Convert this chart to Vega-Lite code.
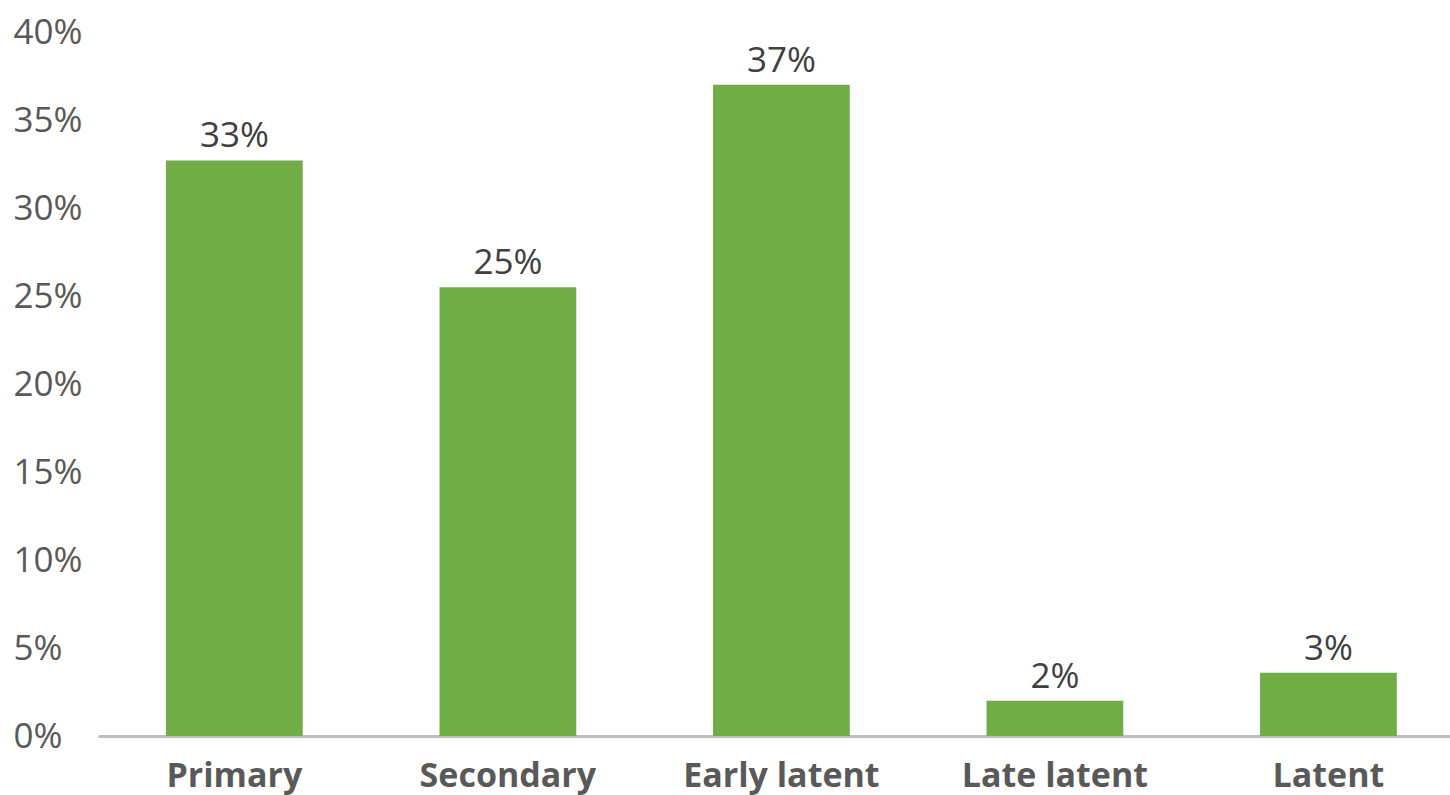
{
  "$schema": "https://vega.github.io/schema/vega-lite/v6.json",
  "autosize": {"type": "none"},
  "padding": {"left": 98, "top": 32, "right": 0, "bottom": 59},
  "width": 1352,
  "height": 704,
  "background": "white",
  "config": {"view": {"stroke": null}, "font": "Open Sans"},
  "data": {
    "values": [
      {"stage": "Primary", "share": 0.327, "label": "33%"},
      {"stage": "Secondary", "share": 0.255, "label": "25%"},
      {"stage": "Early latent", "share": 0.370, "label": "37%"},
      {"stage": "Late latent", "share": 0.020, "label": "2%"},
      {"stage": "Latent", "share": 0.036, "label": "3%"}
    ]
  },
  "encoding": {
    "x": {
      "field": "stage",
      "type": "nominal",
      "sort": null,
      "scale": {"paddingInner": 0.5, "paddingOuter": 0.2216, "align": 0.561},
      "axis": {
        "title": null,
        "labelAngle": 0,
        "labelLimit": 0,
        "labelFont": "Open Sans",
        "labelFontSize": 34,
        "labelFontWeight": "bold",
        "labelColor": "#595959",
        "labelBaseline": "alphabetic",
        "labelPadding": 50,
        "ticks": false,
        "tickSize": 0,
        "domainColor": "#BFBFBF",
        "domainWidth": 3,
        "grid": false
      }
    },
    "y": {
      "field": "share",
      "type": "quantitative",
      "scale": {"domain": [0, 0.4], "nice": false},
      "axis": {
        "title": null,
        "values": [0, 0.05, 0.1, 0.15, 0.2, 0.25, 0.3, 0.35, 0.4],
        "format": ".0%",
        "labelFont": "Open Sans",
        "labelFontSize": 35,
        "labelColor": "#595959",
        "labelAlign": "left",
        "labelBaseline": "middle",
        "labelPadding": 85,
        "ticks": false,
        "tickSize": 0,
        "domain": false,
        "grid": false
      }
    }
  },
  "layer": [
    {"mark": {"type": "bar", "color": "#70AD47"}},
    {
      "mark": {"type": "text", "baseline": "alphabetic", "dy": -13, "fontSize": 35, "font": "Open Sans", "color": "#404040"},
      "encoding": {"text": {"field": "label"}}
    }
  ]
}
